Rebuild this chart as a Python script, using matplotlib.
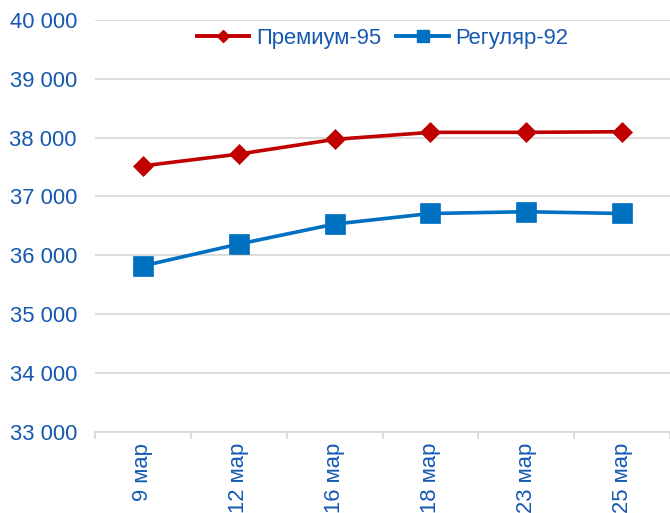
import matplotlib
matplotlib.use('Agg')
import matplotlib.pyplot as plt
from matplotlib.lines import Line2D
from matplotlib.ticker import FuncFormatter
import numpy as np

# data
dates = ['9 мар', '12 мар', '16 мар', '18 мар', '23 мар', '25 мар']
premium_95 = [37520, 37720, 37970, 38090, 38090, 38100]
regular_92 = [35820, 36190, 36530, 36710, 36740, 36710]

red = '#C00000'
blue = '#0070C0'
txt = '#1558B0'
grid = '#D9D9D9'

plt.rcParams['font.family'] = ['Liberation Sans', 'DejaVu Sans']
plt.rcParams['font.size'] = 15.8

fig = plt.figure(figsize=(6.7, 5.13), dpi=100)
ax = fig.add_axes([95/670, 1 - 431.7/513, 575/670, 411.7/513])

x = np.arange(len(dates))
ax.plot(x, premium_95, color=red, lw=2.6, marker='D', ms=10, mew=0.5, zorder=3)
ax.plot(x, regular_92, color=blue, lw=2.6, marker='s', ms=14, mew=0.5, zorder=3)

ax.set_xlim(-0.5, len(dates) - 0.5)
ax.set_ylim(33000, 40000)
ax.set_yticks(np.arange(33000, 40001, 1000))
ax.yaxis.set_major_formatter(FuncFormatter(lambda v, p: f'{int(v):,}'.replace(',', ' ')))
ax.grid(axis='y', color=grid, lw=1.3)
ax.set_axisbelow(True)

ax.set_xticks(x)
ax.set_xticklabels(dates, rotation=90, va='top')
ax.set_xticks(np.arange(-0.5, len(dates)), minor=True)
ax.tick_params(axis='x', which='major', length=0, pad=8, colors=txt)
ax.tick_params(axis='x', which='minor', length=5, width=1.3, color=grid)
ax.tick_params(axis='y', length=0, pad=13, colors=txt)

for s in ['top', 'right', 'left']:
    ax.spines[s].set_visible(False)
ax.spines['bottom'].set_color(grid)
ax.spines['bottom'].set_linewidth(1.3)

handles = [
    Line2D([], [], color=red, lw=2.8, marker='D', ms=6),
    Line2D([], [], color=blue, lw=2.8, marker='s', ms=8),
]
leg = ax.legend(handles, ['Премиум-95', 'Регуляр-92'], loc='center',
                bbox_to_anchor=(0.5, 0.956), ncol=2, frameon=False,
                handlelength=2.4, handletextpad=0.3, columnspacing=0.7,
                borderpad=0, borderaxespad=0)
for t in leg.get_texts():
    t.set_color(txt)

fig.savefig('out.png', dpi=100)
